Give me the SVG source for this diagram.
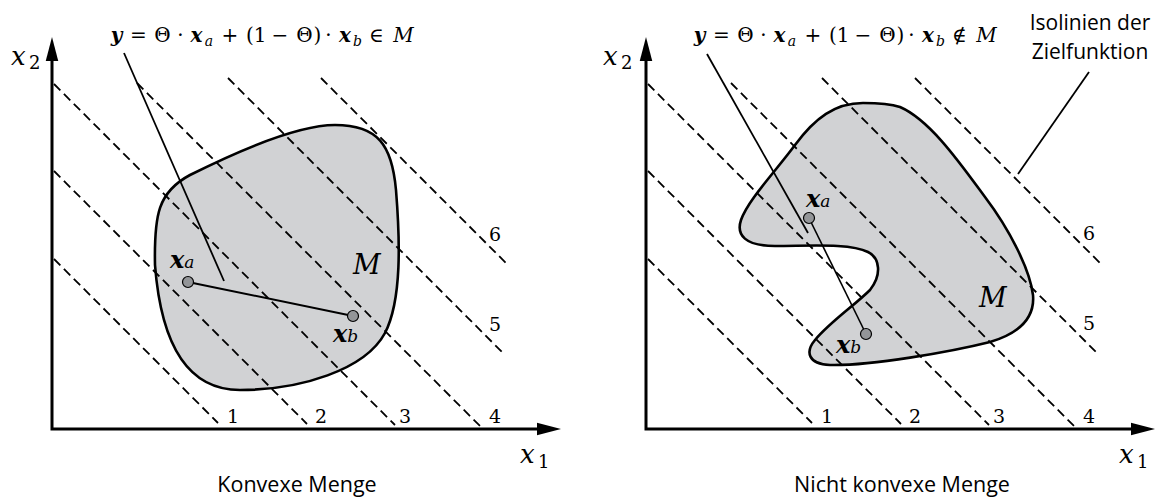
<svg xmlns="http://www.w3.org/2000/svg" width="1158" height="497" viewBox="0 0 1158 497">
<defs>
<marker id="arr" markerUnits="userSpaceOnUse" markerWidth="24" markerHeight="14" viewBox="0 0 23 12" refX="0" refY="6" orient="auto-start-reverse"><path d="M0,0 L23,6 L0,12 z" fill="#000"/></marker>
</defs>
<style>
.axis{fill:none;stroke:#000;stroke-width:3;marker-start:url(#arr);marker-end:url(#arr)}
.set{fill:#d1d2d4;stroke:#000;stroke-width:2.6}
.dash{stroke:#000;stroke-width:1.8;stroke-dasharray:9 5;fill:none}
.lead{stroke:#000;stroke-width:1.8;fill:none}
.seg{stroke:#000;stroke-width:2;fill:none}
.pt{fill:#939598;stroke:#000;stroke-width:1.2}
.m{font-family:"DejaVu Serif","Liberation Serif",serif;font-size:20px;fill:#000;text-anchor:middle}
.bi{font-weight:bold;font-style:italic}
.it{font-style:italic}
.sub{font-size:14px;font-style:italic}
.ax{font-family:"DejaVu Serif","Liberation Serif",serif;font-size:26px;font-style:italic;fill:#000}
.axs{font-family:"DejaVu Serif","Liberation Serif",serif;font-size:18px;fill:#000}
.num{font-family:"DejaVu Serif","Liberation Serif",serif;font-size:19px;fill:#000}
.pl{font-family:"DejaVu Serif","Liberation Serif",serif;font-size:24px;font-weight:bold;font-style:italic;fill:#000}
.pls{font-family:"DejaVu Serif","Liberation Serif",serif;font-size:17px;font-style:italic;font-weight:normal;fill:#000}
.cap{font-family:"Open Sans","Noto Sans",sans-serif;font-size:21.5px;fill:#000;text-anchor:middle}
.note{font-family:"Open Sans","Noto Sans",sans-serif;font-size:21px;fill:#000;text-anchor:middle}
</style>
<rect width="1158" height="497" fill="#fff"/>

<g id="left-set">
<path class="set" d="M155,265 C154,215 158,192 190,175 C230,155 295,125 335,125 C378,125 392,145 396,190 C400,240 402,300 385,333 C365,370 300,390 240,390 C180,390 160,330 155,265 Z"/>
<text class="ax" x="353" y="274" style="font-size:27px">M</text>
</g>

<g id="right-set">
<path class="set" d="M863,103 C835,103 815,118 795,145 C775,172 748,200 741,220 C736,235 745,246 775,246 C810,246 850,243 868,252 C880,258 882,275 870,290 C855,305 830,322 815,340 C805,352 808,364 830,365 C870,366 950,352 990,342 C1020,333 1035,318 1033,295 C1030,270 1010,230 985,197 C960,163 930,120 900,107 C888,103 875,103 863,103 Z"/>
<text class="ax" x="979" y="307" style="font-size:27px">M</text>
</g>

<g id="connectors">
<path class="dash" d="M54,259 L218,423 M54,171 L307,424 M54,84 L395,425 M137,83 L480,426 M228,78 L505,355 M321,78 L506,263"/>
<path class="dash" d="M648,259 L812,423 M648,171 L901,424 M648,84 L989,425 M731,83 L1074,426 M822,78 L1099,355 M915,78 L1100,263"/>
<path class="axis" d="M537,429 L52,429 L52,61"/>
<path class="axis" d="M1131,429 L646,429 L646,61"/>
<path class="lead" d="M124,53 L224,281"/>
<path class="lead" d="M707,54 L808,233"/>
<path class="lead" d="M1089,72 L1018,174"/>
<path class="seg" d="M188,282 L353,316"/>
<path class="seg" d="M809,218 L866,334" style="stroke-width:1.6"/>
</g>

<g id="left-points">
<circle class="pt" cx="188" cy="282" r="5.5"/>
<circle class="pt" cx="353" cy="316" r="5.5"/>
<text class="pl" x="170" y="268">x<tspan class="pls">a</tspan></text>
<text class="pl" x="333" y="342">x<tspan class="pls">b</tspan></text>
</g>

<g id="right-points">
<circle class="pt" cx="809" cy="218" r="5.5"/>
<circle class="pt" cx="866" cy="334" r="5.5"/>
<text class="pl" x="806" y="207">x<tspan class="pls">a</tspan></text>
<text class="pl" x="836" y="353">x<tspan class="pls">b</tspan></text>
</g>

<g id="left-formula">
<text class="m bi" x="116.5" y="42">y</text>
<text class="m" x="138.5" y="42">=</text>
<text class="m" x="162.5" y="42">Θ</text>
<text class="m" x="180.5" y="42">·</text>
<text class="m bi" x="196.5" y="42">x</text>
<text class="m sub" x="209" y="46">a</text>
<text class="m" x="230" y="42">+</text>
<text class="m" x="250" y="42">(</text>
<text class="m" x="260" y="42">1</text>
<text class="m" x="280" y="42">−</text>
<text class="m" x="304.5" y="42">Θ</text>
<text class="m" x="317.5" y="42">)</text>
<text class="m" x="328.5" y="42">·</text>
<text class="m bi" x="345" y="42">x</text>
<text class="m sub" x="357.5" y="46">b</text>
<text class="m" x="376.5" y="42">∈</text>
<text class="m it" x="403.5" y="42">M</text>
</g>

<g id="right-formula">
<text class="m bi" x="699.5" y="42">y</text>
<text class="m" x="721.5" y="42">=</text>
<text class="m" x="745.5" y="42">Θ</text>
<text class="m" x="763.5" y="42">·</text>
<text class="m bi" x="779.5" y="42">x</text>
<text class="m sub" x="792" y="46">a</text>
<text class="m" x="813" y="42">+</text>
<text class="m" x="833" y="42">(</text>
<text class="m" x="843" y="42">1</text>
<text class="m" x="863" y="42">−</text>
<text class="m" x="887.5" y="42">Θ</text>
<text class="m" x="900.5" y="42">)</text>
<text class="m" x="911.5" y="42">·</text>
<text class="m bi" x="928" y="42">x</text>
<text class="m sub" x="940.5" y="46">b</text>
<text class="m" x="959.5" y="42">∉</text>
<text class="m it" x="986.5" y="42">M</text>
</g>

<g id="left-labels">
<text class="ax" x="11" y="65">x</text><text class="axs" x="29" y="69">2</text>
<text class="ax" x="520" y="463">x</text><text class="axs" x="538" y="468">1</text>
<text class="num" x="227" y="423">1</text>
<text class="num" x="315" y="423">2</text>
<text class="num" x="399" y="423">3</text>
<text class="num" x="489" y="423">4</text>
<text class="num" x="489" y="331">5</text>
<text class="num" x="489" y="241">6</text>
<text class="cap" x="297" y="492">Konvexe Menge</text>
</g>

<g id="right-labels">
<text class="ax" x="603" y="65">x</text><text class="axs" x="621" y="69">2</text>
<text class="ax" x="1119" y="463">x</text><text class="axs" x="1137" y="468">1</text>
<text class="num" x="821" y="423">1</text>
<text class="num" x="909" y="423">2</text>
<text class="num" x="993" y="423">3</text>
<text class="num" x="1083" y="423">4</text>
<text class="num" x="1083" y="330">5</text>
<text class="num" x="1083" y="240">6</text>
<text class="cap" x="902" y="492">Nicht konvexe Menge</text>
</g>

<g id="isolines-note">
<text class="note" x="1090" y="30">Isolinien der</text>
<text class="note" x="1090" y="59">Zielfunktion</text>
</g>
</svg>
